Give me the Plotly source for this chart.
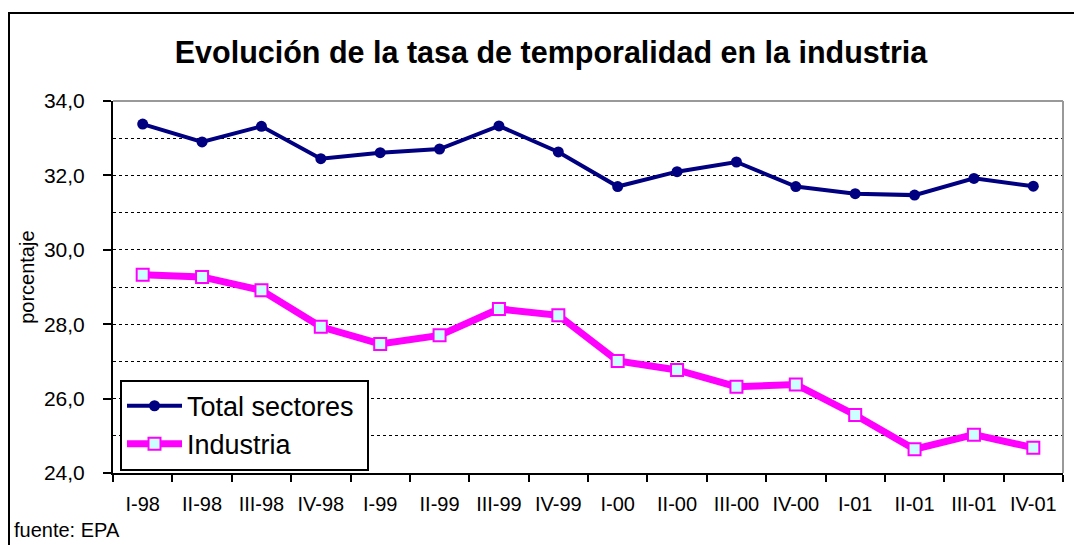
import plotly.graph_objects as go

categories = ["I-98", "II-98", "III-98", "IV-98", "I-99", "II-99", "III-99", "IV-99",
              "I-00", "II-00", "III-00", "IV-00", "I-01", "II-01", "III-01", "IV-01"]
total_sectores = [33.38, 32.90, 33.32, 32.45, 32.61, 32.71, 33.33, 32.63,
                  31.70, 32.10, 32.36, 31.70, 31.51, 31.47, 31.92, 31.71]
industria = [29.33, 29.27, 28.91, 27.93, 27.47, 27.70, 28.41, 28.24,
             27.01, 26.77, 26.32, 26.38, 25.56, 24.64, 25.03, 24.68]
y_ticks = [24, 26, 28, 30, 32, 34]

# page body has an 8px margin; work in reference pixel coords and shift
OFF = 8
W, H = 1082 - OFF, 545 - OFF
L, R, T, B = 113 - OFF, 1063 - OFF, 101 - OFF, 473.3 - OFF

def px_x(p):
    return (p - OFF - L) / (R - L)

def px_y(p):
    return (B - (p - OFF)) / (B - T)

FONT = "Liberation Sans, Arial, sans-serif"

fig = go.Figure()
fig.add_trace(go.Scatter(
    x=categories, y=total_sectores, name="Total sectores\u00a0", mode="lines+markers",
    line=dict(color="#000080", width=4),
    marker=dict(symbol="circle", size=11, color="#000080"),
))
fig.add_trace(go.Scatter(
    x=categories, y=industria, name="Industria", mode="lines+markers",
    line=dict(color="#FF00FF", width=7),
    marker=dict(symbol="square", size=12, color="#CCFFFF",
                line=dict(color="#FF00FF", width=2)),
))

fig.update_layout(
    width=W, height=H,
    margin=dict(l=L, r=W - R, t=T, b=H - B),
    paper_bgcolor="white", plot_bgcolor="white",
    font=dict(family=FONT, size=20, color="black"),
    separators=",.",
    title=dict(text="<b>Evolución de la tasa de temporalidad en la industria</b>",
               x=(551 - OFF) / W, xref="container", xanchor="center",
               y=1 - (52 - OFF) / H, yref="container", yanchor="middle",
               font=dict(size=30.5, family=FONT, color="black")),
    showlegend=True,
    legend=dict(x=px_x(120), y=px_y(471), xanchor="left", yanchor="bottom",
                bgcolor="white", bordercolor="black", borderwidth=2,
                font=dict(size=27, family=FONT, color="black"),
                itemwidth=55, tracegroupgap=0),
    xaxis=dict(
        type="category", range=[-0.5, 15.5],
        showline=True, linecolor="black", linewidth=2,
        ticks="outside", tickson="boundaries", ticklen=7, tickwidth=2, tickcolor="black",
        showgrid=False, zeroline=False, ticklabelstandoff=12,
        tickfont=dict(size=20),
    ),
    yaxis=dict(
        range=[24, 34], tickvals=y_ticks, tickformat=".1f",
        showline=True, linecolor="black", linewidth=2,
        ticks="outside", ticklen=8, tickwidth=2, tickcolor="black",
        showgrid=True, gridcolor="black", griddash="dot", gridwidth=1,
        minor=dict(dtick=1, showgrid=True, gridcolor="black", griddash="dot", gridwidth=1),
        zeroline=False, ticklabelstandoff=14,
        tickfont=dict(size=21),
    ),
    shapes=[
        dict(type="line", xref="paper", yref="paper", x0=0, x1=1, y0=1, y1=1,
             line=dict(color="#999999", width=2), layer="above"),
        dict(type="line", xref="paper", yref="paper", x0=1, x1=1, y0=0, y1=1,
             line=dict(color="#999999", width=2), layer="above"),
        dict(type="rect", xref="paper", yref="paper",
             x0=px_x(9), x1=px_x(1100), y0=px_y(560), y1=px_y(13),
             line=dict(color="black", width=2), layer="above"),
    ],
    annotations=[
        dict(text="porcentaje", textangle=-90, xref="paper", yref="paper",
             x=px_x(27), y=px_y(278), xanchor="center", yanchor="middle",
             showarrow=False, font=dict(size=20, family=FONT)),
        dict(text="fuente: EPA", xref="paper", yref="paper",
             x=px_x(12), y=px_y(530), xanchor="left", yanchor="middle",
             showarrow=False, font=dict(size=20, family=FONT)),
    ],
)

fig.write_html("out.html")
